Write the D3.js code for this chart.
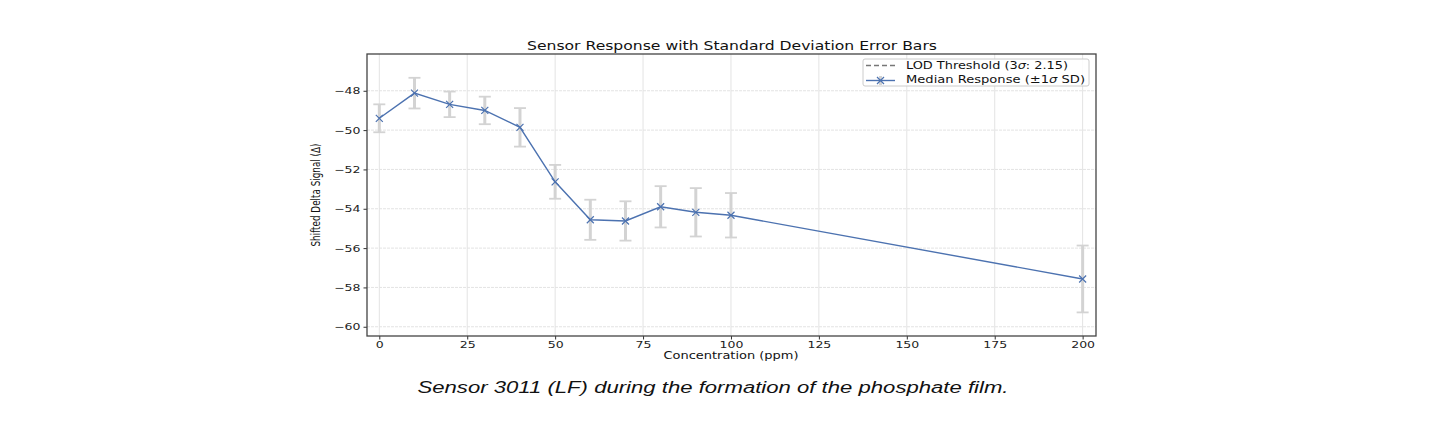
<!DOCTYPE html>
<html><head><meta charset="utf-8">
<script src="https://cdn.jsdelivr.net/npm/d3@7"></script>
<style>
body{margin:0;background:#fff;}
svg{display:block;}
</style></head>
<body>
<svg id="chart" width="1448" height="424"></svg>
<script>
const concentrations = [0, 10, 20, 30, 40, 50, 60, 70, 80, 90, 100, 200];
const medianResponse = [-49.40, -48.12, -48.69, -49.00, -49.86, -52.63, -54.56, -54.62, -53.90, -54.18, -54.33, -57.57];
const stdDev = [0.71, 0.78, 0.65, 0.70, 0.98, 0.86, 1.02, 1.00, 1.05, 1.23, 1.13, 1.70];
const xTicks = [0, 25, 50, 75, 100, 125, 150, 175, 200];
const yTicks = [-60, -58, -56, -54, -52, -50, -48];
const legendLabels = [["LOD Threshold (3", "\u03c3", ": 2.15)"], ["Median Response (\u00b11", "\u03c3", " SD)"]];

const svg = d3.select("#chart");
const L = 367, R = 1096, T = 54, B = 336;
const x = d3.scaleLinear().domain([-3.5, 203.8]).range([L, R]);
const y = d3.scaleLinear().domain([-60.47, -46.13]).range([B, T]);
const lineColor = "#4c72b0";
const font = "DejaVu Sans, sans-serif";

function stretch(sel, k) {
  sel.each(function() {
    const w = this.getComputedTextLength();
    this.setAttribute("textLength", w * k);
    this.setAttribute("lengthAdjust", "spacingAndGlyphs");
  });
}
function fitWidth(sel, w) {
  sel.attr("textLength", w).attr("lengthAdjust", "spacingAndGlyphs");
}

// grid
const g = svg.append("g");
g.selectAll(".vg").data(xTicks).enter().append("line")
  .attr("x1", d => x(d)).attr("x2", d => x(d)).attr("y1", T).attr("y2", B)
  .attr("stroke", "#e3e3e3").attr("stroke-width", 1);
g.selectAll(".hg").data(yTicks).enter().append("line")
  .attr("x1", L).attr("x2", R).attr("y1", d => y(d)).attr("y2", d => y(d))
  .attr("stroke", "#e3e3e3").attr("stroke-width", 1).attr("stroke-dasharray", "3,1");

// error bars
const eb = svg.append("g").attr("stroke", "#d3d3d3").attr("stroke-width", 3);
concentrations.forEach((c, i) => {
  const cx = x(c), y1 = y(medianResponse[i] + stdDev[i]), y2 = y(medianResponse[i] - stdDev[i]);
  eb.append("line").attr("x1", cx).attr("x2", cx).attr("y1", y1).attr("y2", y2);
  eb.append("line").attr("x1", cx - 6).attr("x2", cx + 6).attr("y1", y1).attr("y2", y1).attr("stroke-width", 1.8);
  eb.append("line").attr("x1", cx - 6).attr("x2", cx + 6).attr("y1", y2).attr("y2", y2).attr("stroke-width", 1.8);
});

// line
const pts = concentrations.map((c, i) => [c, medianResponse[i]]);
svg.append("path").datum(pts)
  .attr("d", d3.line().x(d => x(d[0])).y(d => y(d[1])))
  .attr("fill", "none").attr("stroke", lineColor).attr("stroke-width", 1.4);

// markers
const m = 3.5;
svg.append("g").selectAll("path").data(pts).enter().append("path")
  .attr("d", d => { const px = x(d[0]), py = y(d[1]);
    return `M${px-m},${py-m}L${px+m},${py+m}M${px-m},${py+m}L${px+m},${py-m}`; })
  .attr("stroke", lineColor).attr("stroke-width", 1.2).attr("fill", "none");

// axes
const xAxis = svg.append("g").attr("transform", `translate(0,${B})`)
  .call(d3.axisBottom(x).tickValues(xTicks).tickSize(3.5).tickPadding(2).tickFormat(d3.format("d")));
const yAxis = svg.append("g").attr("transform", `translate(${L},0)`)
  .call(d3.axisLeft(y).tickValues(yTicks).tickSize(3.5).tickPadding(3).tickFormat(d => "\u2212" + Math.abs(d)));
[xAxis, yAxis].forEach(a => {
  a.select(".domain").remove();
  a.selectAll(".tick line").attr("stroke", "#333");
  a.selectAll(".tick text").attr("font-family", font).attr("font-size", 9.2).attr("fill", "#222");
  stretch(a.selectAll(".tick text"), 1.36);
});

// spines
svg.append("rect").attr("x", L).attr("y", T).attr("width", R - L).attr("height", B - T)
  .attr("fill", "none").attr("stroke", "#444").attr("stroke-width", 1.3);

// title & labels
fitWidth(svg.append("text").attr("x", 732).attr("y", 50).attr("text-anchor", "middle")
  .attr("font-family", font).attr("font-size", 11.5).attr("fill", "#111")
  .text("Sensor Response with Standard Deviation Error Bars"), 410);
fitWidth(svg.append("text").attr("x", 731).attr("y", 359).attr("text-anchor", "middle")
  .attr("font-family", font).attr("font-size", 9.8).attr("fill", "#111")
  .text("Concentration (ppm)"), 135);
fitWidth(svg.append("text").attr("transform", `translate(320,${(T + B) / 2}) rotate(-90)`)
  .attr("text-anchor", "middle").attr("font-family", "DejaVu Sans Condensed, DejaVu Sans, sans-serif")
  .attr("font-stretch", "condensed").attr("font-size", 12).attr("fill", "#111")
  .text("Shifted Delta Signal (\u0394)"), 103);

// legend
const lg = svg.append("g");
lg.append("rect").attr("x", 863).attr("y", 59).attr("width", 226).attr("height", 27).attr("rx", 2)
  .attr("fill", "#fff").attr("fill-opacity", 0.85).attr("stroke", "#ccc").attr("stroke-width", 1);
lg.append("line").attr("x1", 866).attr("x2", 895).attr("y1", 65.5).attr("y2", 65.5)
  .attr("stroke", "#777").attr("stroke-width", 1.4).attr("stroke-dasharray", "5,3");
lg.append("line").attr("x1", 880.5).attr("x2", 880.5).attr("y1", 76).attr("y2", 85)
  .attr("stroke", "#d3d3d3").attr("stroke-width", 3);
lg.append("line").attr("x1", 866).attr("x2", 895).attr("y1", 80.5).attr("y2", 80.5)
  .attr("stroke", lineColor).attr("stroke-width", 1.4);
lg.append("path").attr("d", `M${880.5-m},${80.5-m}L${880.5+m},${80.5+m}M${880.5-m},${80.5+m}L${880.5+m},${80.5-m}`)
  .attr("stroke", lineColor).attr("stroke-width", 1.2);
const lt = lg.selectAll(".lt").data(legendLabels).enter().append("text")
  .attr("x", 906).attr("y", (d, i) => 68.5 + i * 14)
  .attr("font-family", font).attr("font-size", 9.8).attr("fill", "#111");
lt.each(function(parts, i) {
  const t = d3.select(this);
  parts.forEach((p, j) => t.append("tspan").attr("font-style", j === 1 ? "italic" : null).text(p));
  this.setAttribute("textLength", i === 0 ? 162 : 179);
  this.setAttribute("lengthAdjust", "spacingAndGlyphs");
});

// caption
fitWidth(svg.append("text").attr("x", 713).attr("y", 393).attr("text-anchor", "middle")
  .attr("font-family", "Liberation Sans, Arial, sans-serif").attr("font-style", "italic")
  .attr("font-size", 15.8).attr("fill", "#111")
  .text("Sensor 3011 (LF) during the formation of the phosphate film."), 591);
</script>
</body></html>
